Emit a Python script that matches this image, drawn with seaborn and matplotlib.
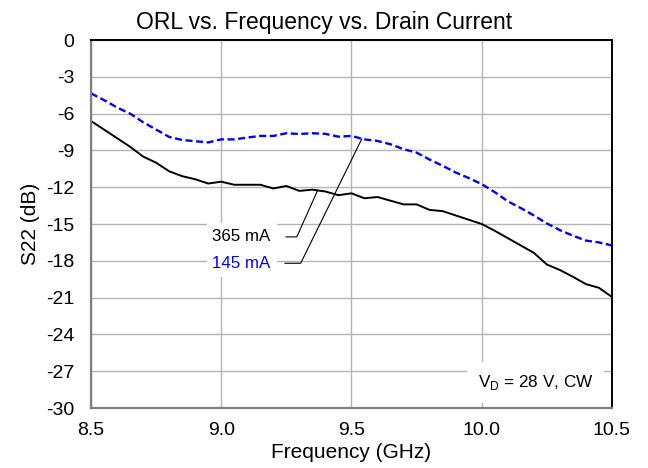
import numpy as np
import pandas as pd
import matplotlib
matplotlib.use("Agg")
import matplotlib.pyplot as plt
import seaborn as sns

# Output return loss (S22) vs. frequency at two drain currents
freq_365 = [8.50, 8.55, 8.60, 8.65, 8.70, 8.75, 8.80, 8.85, 8.90, 8.95,
            9.00, 9.05, 9.10, 9.15, 9.20, 9.25, 9.30, 9.35, 9.40, 9.45,
            9.50, 9.55, 9.60, 9.65, 9.70, 9.75, 9.80, 9.85, 9.90, 9.95,
            10.00, 10.05, 10.10, 10.15, 10.20, 10.25, 10.30, 10.35, 10.40, 10.45, 10.50]
s22_365 = [-6.6, -7.3, -8.0, -8.7, -9.5, -10.0, -10.7, -11.1, -11.35, -11.7,
           -11.55, -11.8, -11.8, -11.8, -12.1, -11.9, -12.3, -12.2, -12.35, -12.65,
           -12.5, -12.9, -12.8, -13.1, -13.4, -13.4, -13.85, -13.95, -14.3, -14.65,
           -15.0, -15.55, -16.15, -16.75, -17.35, -18.3, -18.75, -19.3, -19.9, -20.2, -20.95]

freq_145 = freq_365
s22_145 = [-4.35, -4.9, -5.5, -6.0, -6.7, -7.3, -7.9, -8.15, -8.25, -8.35,
           -8.1, -8.1, -7.95, -7.82, -7.82, -7.6, -7.66, -7.6, -7.65, -7.88,
           -7.82, -8.1, -8.23, -8.5, -8.9, -9.18, -9.75, -10.25, -10.8, -11.25,
           -11.75, -12.4, -13.15, -13.7, -14.3, -14.95, -15.5, -15.95, -16.35, -16.5, -16.75]

x_ticks = [8.5, 9.0, 9.5, 10.0, 10.5]
x_tick_labels = ["8.5", "9.0", "9.5", "10.0", "10.5"]
y_ticks = [0, -3, -6, -9, -12, -15, -18, -21, -24, -27, -30]
y_tick_labels = ["0", "-3", "-6", "-9", "-12", "-15", "-18", "-21", "-24", "-27", "-30"]

series_names = ["365 mA", "145 mA"]
series_colors = {"365 mA": "#000000", "145 mA": "#0000ff"}
series_dashes = {"365 mA": "", "145 mA": (3, 1.5)}

# Callout labels: text anchor (right edge), leader start, elbow and target frequency
callouts = [
    {"name": "365 mA", "text_x": 9.19, "text_y": -16.05, "start_x": 9.248, "elbow_x": 9.29, "target_x": 9.37},
    {"name": "145 mA", "text_x": 9.19, "text_y": -18.2, "start_x": 9.244, "elbow_x": 9.305, "target_x": 9.54},
]

df = pd.concat([
    pd.DataFrame({"Frequency (GHz)": freq_365, "S22 (dB)": s22_365, "Current": "365 mA"}),
    pd.DataFrame({"Frequency (GHz)": freq_145, "S22 (dB)": s22_145, "Current": "145 mA"}),
], ignore_index=True)

sns.set_theme(style="white")
plt.rcParams["font.family"] = ["Liberation Sans", "DejaVu Sans"]
plt.rcParams["axes.unicode_minus"] = False
plt.rcParams["mathtext.fontset"] = "custom"
plt.rcParams["mathtext.rm"] = "Liberation Sans"

fig = plt.figure(figsize=(6.48, 4.68), dpi=100)
ax = fig.add_axes([0.1404, 0.1282, 0.8040, 0.7863])

sns.lineplot(data=df, x="Frequency (GHz)", y="S22 (dB)", hue="Current", style="Current",
             hue_order=series_names, style_order=series_names,
             palette=series_colors, dashes=series_dashes, legend=False, ax=ax, zorder=3)
for line, lw in zip(ax.lines, [1.4, 1.7]):
    line.set_linewidth(lw)

ax.set_xlim(8.5, 10.5)
ax.set_ylim(-30, 0)
ax.set_xticks(x_ticks)
ax.set_xticklabels(x_tick_labels)
ax.set_yticks(y_ticks)
ax.set_yticklabels(y_tick_labels)
ax.tick_params(axis="both", length=0, labelsize=14, colors="#000000")
ax.tick_params(axis="y", pad=12)
ax.tick_params(axis="x", pad=10)

ax.grid(True, color="#b4b4b4", linewidth=1.0)
ax.set_axisbelow(True)

for side in ["left", "bottom"]:
    ax.spines[side].set_color("#808080")
    ax.spines[side].set_linewidth(1.6)
for side in ["top", "right"]:
    ax.spines[side].set_color("#000000")
    ax.spines[side].set_linewidth(1.4)
for sp in ax.spines.values():
    sp.set_zorder(5)

fig.suptitle("ORL vs. Frequency vs. Drain Current", x=0.5, y=1 - 29 / 468, va="baseline",
             fontsize=16.5, color="#000000")
ax.set_xlabel("Frequency (GHz)", fontsize=15, labelpad=3, color="#000000")
ax.set_ylabel("S22 (dB)", fontsize=15, labelpad=4, color="#000000")

series_lookup = {"365 mA": (freq_365, s22_365), "145 mA": (freq_145, s22_145)}
for c in callouts:
    fx, fy = series_lookup[c["name"]]
    target_y = float(np.interp(c["target_x"], fx, fy))
    ax.text(c["text_x"], c["text_y"], c["name"], ha="right", va="center", fontsize=12.2,
            color=series_colors[c["name"]], zorder=4,
            bbox=dict(boxstyle="square,pad=0.35", facecolor="white", edgecolor="none"))
    ax.plot([c["start_x"], c["elbow_x"], c["target_x"]],
            [c["text_y"], c["text_y"], target_y],
            color="#000000", linewidth=0.8, zorder=4)

ax.text(10.206, -27.9, r"V$_\mathregular{D}$ = 28 V, CW", ha="center", va="center", fontsize=12.3,
        color="#000000", zorder=4,
        bbox=dict(boxstyle="square,pad=0.65", facecolor="white", edgecolor="none"))

fig.savefig("out.png", dpi=100)
